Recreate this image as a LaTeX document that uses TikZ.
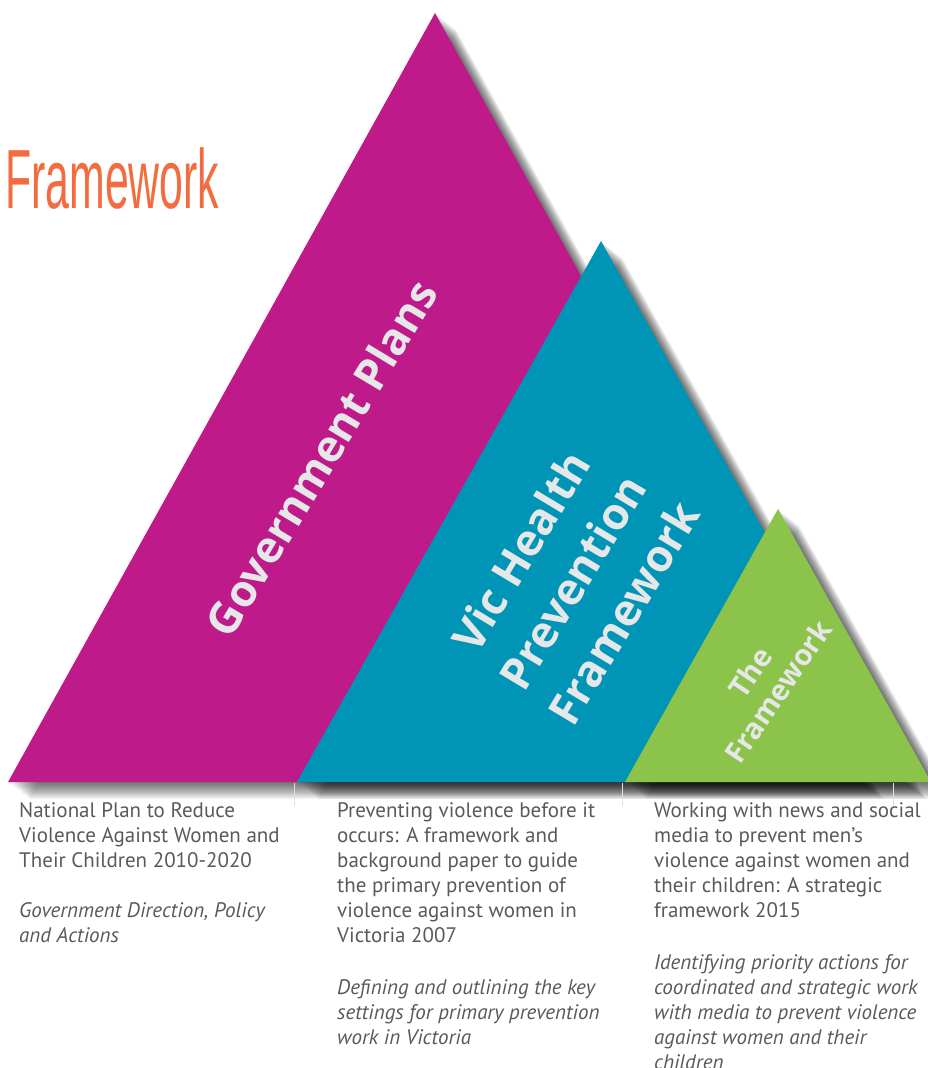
\documentclass[tikz,border=0pt]{standalone}
\usepackage{fontspec}
\setmainfont{PT Sans}
\newfontfamily\osans{Open Sans}
\newfontfamily\lsans{Liberation Sans}
\definecolor{mag}{HTML}{BE1A8A}
\definecolor{teal}{HTML}{0095B6}
\definecolor{lime}{HTML}{8CC34A}
\definecolor{orng}{HTML}{F36C3F}
\definecolor{txtg}{HTML}{5A5A5A}
\definecolor{labw}{HTML}{E6E7E8}
\tikzset{
  lab/.style={text=labw, inner sep=0pt, align=center},
  body/.style={text=txtg, inner sep=0pt, align=left, anchor=north west, font=\fontsize{21}{25}\selectfont},
  shad/.style={black, opacity=0.05},
  tick/.style={black!12, line width=0.8pt}
}
\begin{document}
\begin{tikzpicture}[x=1pt,y=-1pt]
\useasboundingbox (0,0) rectangle (928,1068);
\fill[white] (0,0) rectangle (928,1068);
% magenta triangle
\foreach \k in {1,...,14} \fill[shad, shift={(\k*1.5,\k*1.2)}] (435,13) -- (8,782) -- (862,782) -- cycle;
\fill[mag] (435,13) -- (8,782) -- (862,782) -- cycle;
% blue triangle
\foreach \k in {1,...,14} \fill[shad, shift={(\k*1.5,\k*1.2)}] (601,241) -- (297,782) -- (905,782) -- cycle;
\fill[teal] (601,241) -- (297,782) -- (905,782) -- cycle;
% green triangle
\foreach \k in {1,...,14} \fill[shad, shift={(\k*1.5,\k*1.2)}] (778,509) -- (625,782) -- (931,782) -- cycle;
\fill[lime] (778,509) -- (625,782) -- (931,782) -- cycle;
% faint ticks under bases
\coordinate (ta1) at (294,783); \coordinate (tb1) at (294,806);
\coordinate (ta2) at (622,783); \coordinate (tb2) at (622,806);
\coordinate (ta3) at (893,783); \coordinate (tb3) at (893,806);
\draw[tick] (ta1) -- (tb1);
\draw[tick] (ta2) -- (tb2);
\draw[tick] (ta3) -- (tb3);
% title
\node[anchor=base west, inner sep=0pt, text=orng, xscale=0.51, font=\lsans\fontsize{84}{90}\selectfont] (title) at (5,208) {Framework};
% labels
\node[lab, rotate=59, font=\osans\bfseries\fontsize{44}{50}\selectfont] (gov) at (321,458) {Government Plans};
\node[lab, rotate=59, font=\osans\bfseries\fontsize{44}{60}\selectfont] (vic) at (572,582) {Vic Health\\Prevention\\Framework};
\node[lab, rotate=56, font=\osans\bfseries\fontsize{29}{34}\selectfont] (the) at (764,682) {The\\Framework};
% body texts
\node[body] (t1) at (19,799.5) {\strut National Plan to Reduce\\Violence Against Women and\\Their Children 2010-2020\\[25pt]\textit{Government Direction, Policy}\\\textit{and Actions}};
\node[body] (t2) at (337,799.5) {\strut Preventing violence before it\\occurs: A framework and\\background paper to guide\\the primary prevention of\\violence against women in\\Victoria 2007\\[27pt]\textit{Defining and outlining the key}\\\textit{settings for primary prevention}\\\textit{work in Victoria}};
\node[body] (t3) at (654,799.5) {\strut Working with news and social\\media to prevent men's\\violence against women and\\their children: A strategic\\framework 2015\\[27pt]\textit{Identifying priority actions for}\\\textit{coordinated and strategic work}\\\textit{with media to prevent violence}\\\textit{against women and their}\\\textit{children}};
\end{tikzpicture}
\end{document}
